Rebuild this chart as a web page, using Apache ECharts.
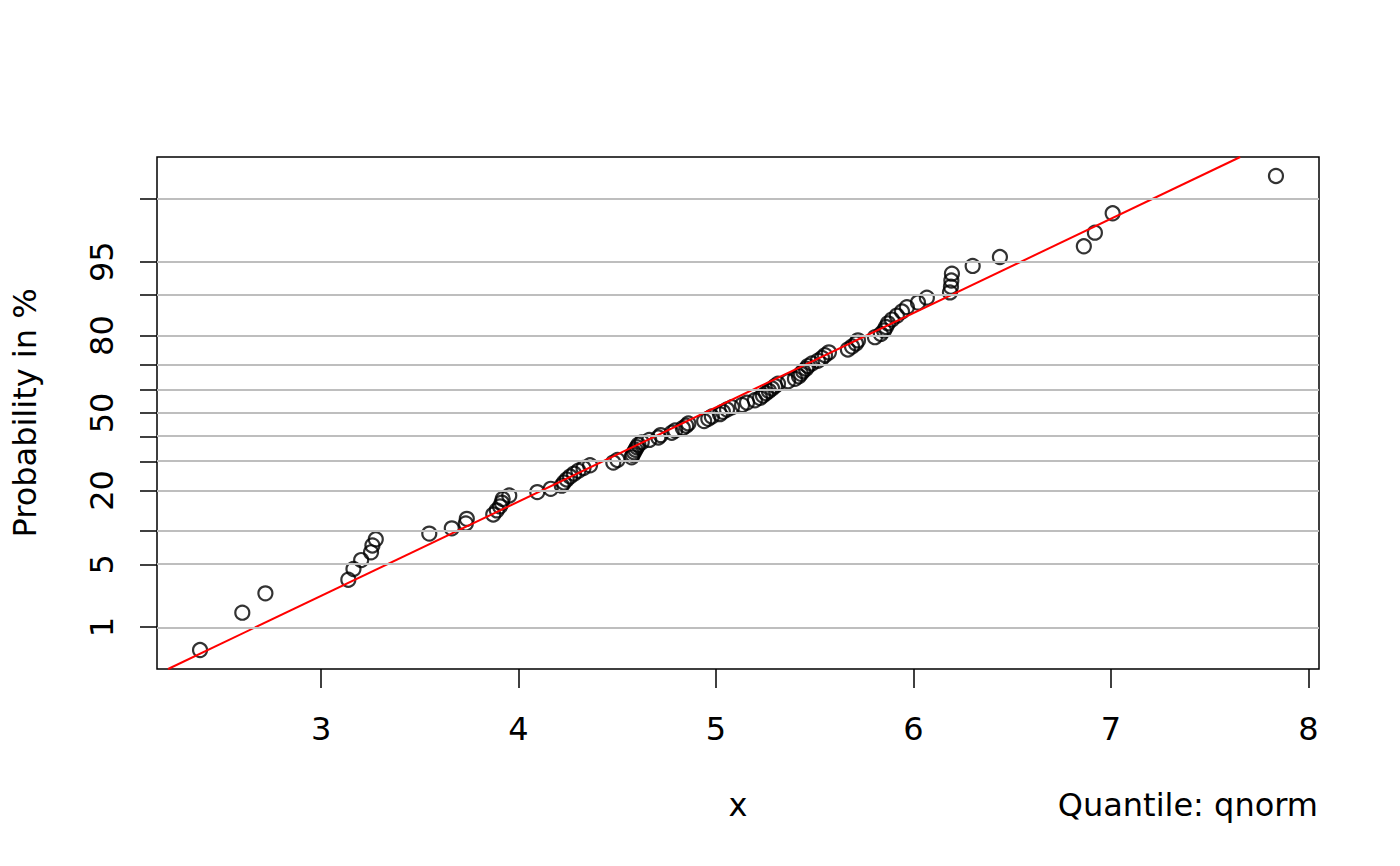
<!DOCTYPE html>
<html>
<head>
<meta charset="utf-8">
<script src="https://cdn.jsdelivr.net/npm/echarts@6/dist/echarts.min.js"></script>
<style>
html,body{margin:0;padding:0;background:#fff;}
#chart{width:1400px;height:866px;}
</style>
</head>
<body>
<div id="chart"></div>
<script>
// Sorted sample values (x)
const xValues = [
  2.387, 2.601, 2.718, 3.138, 3.164, 3.203, 3.253, 3.260, 3.277, 3.548,
  3.662, 3.733, 3.738, 3.872, 3.890, 3.906, 3.915, 3.920, 3.953, 4.095,
  4.163, 4.219, 4.230, 4.244, 4.261, 4.281, 4.303, 4.329, 4.362, 4.480,
  4.501, 4.573, 4.578, 4.585, 4.592, 4.599, 4.607, 4.624, 4.662, 4.708,
  4.720, 4.776, 4.793, 4.832, 4.849, 4.860, 4.940, 4.961, 4.979, 5.020,
  5.035, 5.056, 5.081, 5.132, 5.157, 5.197, 5.223, 5.238, 5.253, 5.268,
  5.284, 5.299, 5.314, 5.365, 5.400, 5.420, 5.430, 5.441, 5.456, 5.466,
  5.486, 5.516, 5.537, 5.552, 5.572, 5.668, 5.689, 5.709, 5.719, 5.805,
  5.835, 5.851, 5.861, 5.871, 5.891, 5.916, 5.942, 5.967, 6.023, 6.068,
  6.185, 6.190, 6.192, 6.195, 6.300, 6.438, 6.863, 6.919, 7.009, 7.836
];
// Probability (in %) of each point
const probPct = [
  0.5, 1.5, 2.5, 3.5, 4.5, 5.5, 6.5, 7.5, 8.5, 9.5,
  10.5, 11.5, 12.5, 13.5, 14.5, 15.5, 16.5, 17.5, 18.5, 19.5,
  20.5, 21.5, 22.5, 23.5, 24.5, 25.5, 26.5, 27.5, 28.5, 29.5,
  30.5, 31.5, 32.5, 33.5, 34.5, 35.5, 36.5, 37.5, 38.5, 39.5,
  40.5, 41.5, 42.5, 43.5, 44.5, 45.5, 46.5, 47.5, 48.5, 49.5,
  50.5, 51.5, 52.5, 53.5, 54.5, 55.5, 56.5, 57.5, 58.5, 59.5,
  60.5, 61.5, 62.5, 63.5, 64.5, 65.5, 66.5, 67.5, 68.5, 69.5,
  70.5, 71.5, 72.5, 73.5, 74.5, 75.5, 76.5, 77.5, 78.5, 79.5,
  80.5, 81.5, 82.5, 83.5, 84.5, 85.5, 86.5, 87.5, 88.5, 89.5,
  90.5, 91.5, 92.5, 93.5, 94.5, 95.5, 96.5, 97.5, 98.5, 99.5
];
// Y axis probability ticks / grid lines (%)
const yTickPct = [1, 5, 10, 20, 30, 40, 50, 60, 70, 80, 90, 95, 99];
const yLabelPct = [1, 5, 20, 50, 80, 95];
// X axis ticks
const xTicks = [3, 4, 5, 6, 7, 8];
// Reference line end points: x values and their normal quantiles
const lineX = [2.225, 7.655];
const lineQ = [-2.782, 2.782];

function qnorm(p){
  const a=[-3.969683028665376e+01,2.209460984245205e+02,-2.759285104469687e+02,1.383577518672690e+02,-3.066479806614716e+01,2.506628277459239e+00];
  const b=[-5.447609879822406e+01,1.615858368580409e+02,-1.556989798598866e+02,6.680131188771972e+01,-1.328068155288572e+01];
  const c=[-7.784894002430293e-03,-3.223964580411365e-01,-2.400758277161838e+00,-2.549671010336154e+00,4.374664141464880e+00,2.938163982698783e+00];
  const d=[7.784695709041462e-03,3.224671290700398e-01,2.445134137142996e+00,3.754408661907416e+00];
  const pl=0.02425, ph=1-pl; let q,r;
  if(p<pl){q=Math.sqrt(-2*Math.log(p));return (((((c[0]*q+c[1])*q+c[2])*q+c[3])*q+c[4])*q+c[5])/((((d[0]*q+d[1])*q+d[2])*q+d[3])*q+1);}
  if(p<=ph){q=p-0.5;r=q*q;return (((((a[0]*r+a[1])*r+a[2])*r+a[3])*r+a[4])*r+a[5])*q/(((((b[0]*r+b[1])*r+b[2])*r+b[3])*r+b[4])*r+1);}
  q=Math.sqrt(-2*Math.log(1-p));return -(((((c[0]*q+c[1])*q+c[2])*q+c[3])*q+c[4])*q+c[5])/((((d[0]*q+d[1])*q+d[2])*q+d[3])*q+1);
}

const FONT = 'DejaVu Sans';
const FS = 32;
const points = xValues.map((x, i) => [x, qnorm(probPct[i] / 100)]);
const tickZ = yTickPct.map(p => qnorm(p / 100));
const labelZ = yLabelPct.map(p => qnorm(p / 100));

const chart = echarts.init(document.getElementById('chart'), null, {renderer: 'svg'});
chart.setOption({
  animation: false,
  backgroundColor: '#ffffff',
  grid: {left: 157, right: 81, top: 157, bottom: 197, show: true, containLabel: false,
         outerBoundsMode: 'none',
         borderColor: '#000', borderWidth: 1.5, backgroundColor: 'transparent'},
  xAxis: {
    type: 'value', min: 2.169, max: 8.054,
    name: 'x', nameLocation: 'middle', nameGap: 120,
    nameTextStyle: {fontFamily: FONT, fontSize: FS, color: '#000'},
    axisLine: {show: false, onZero: false},
    splitLine: {show: false},
    axisTick: {show: true, length: 19, customValues: xTicks, lineStyle: {color: '#000', width: 1.5}},
    axisLabel: {fontFamily: FONT, fontSize: FS, color: '#000', margin: 44, customValues: xTicks}
  },
  yAxis: {
    type: 'value', min: -2.782, max: 2.782,
    name: 'Probability in %', nameLocation: 'middle', nameGap: 116, nameRotate: 90,
    nameTextStyle: {fontFamily: FONT, fontSize: FS, color: '#000'},
    axisLine: {show: false, onZero: false},
    splitLine: {show: false},
    axisTick: {show: true, length: 17, customValues: tickZ, lineStyle: {color: '#000', width: 1.5}},
    axisLabel: {
      fontFamily: FONT, fontSize: FS, color: '#000', margin: 39, rotate: 90,
      customValues: labelZ,
      formatter: function (v) {
        let best = 0, bd = Infinity;
        labelZ.forEach((z, i) => { const dd = Math.abs(z - v); if (dd < bd) { bd = dd; best = i; } });
        return String(yLabelPct[best]);
      }
    }
  },
  graphic: [{
    type: 'text', right: 82, top: 789,
    style: {text: 'Quantile: qnorm', font: FS + 'px "DejaVu Sans"', fill: '#000'}
  }],
  series: [
    {
      type: 'scatter', name: 'sample', data: points, z: 3,
      symbol: 'circle', symbolSize: 14,
      itemStyle: {color: 'rgba(0,0,0,0)', borderColor: '#000', borderWidth: 2.2},
      emphasis: {disabled: true},
      markLine: {
        silent: true, symbol: ['none', 'none'], animation: false,
        label: {show: false},
        lineStyle: {color: '#bebebe', width: 2, type: 'solid'},
        data: tickZ.map(z => ({yAxis: z}))
      }
    },
    {
      type: 'line', name: 'fit', z: 4, clip: true,
      data: lineX.map((x, i) => [x, lineQ[i]]),
      showSymbol: false, symbol: 'none',
      lineStyle: {color: '#ff0000', width: 2},
      emphasis: {disabled: true}
    }
  ]
});
</script>
</body>
</html>
